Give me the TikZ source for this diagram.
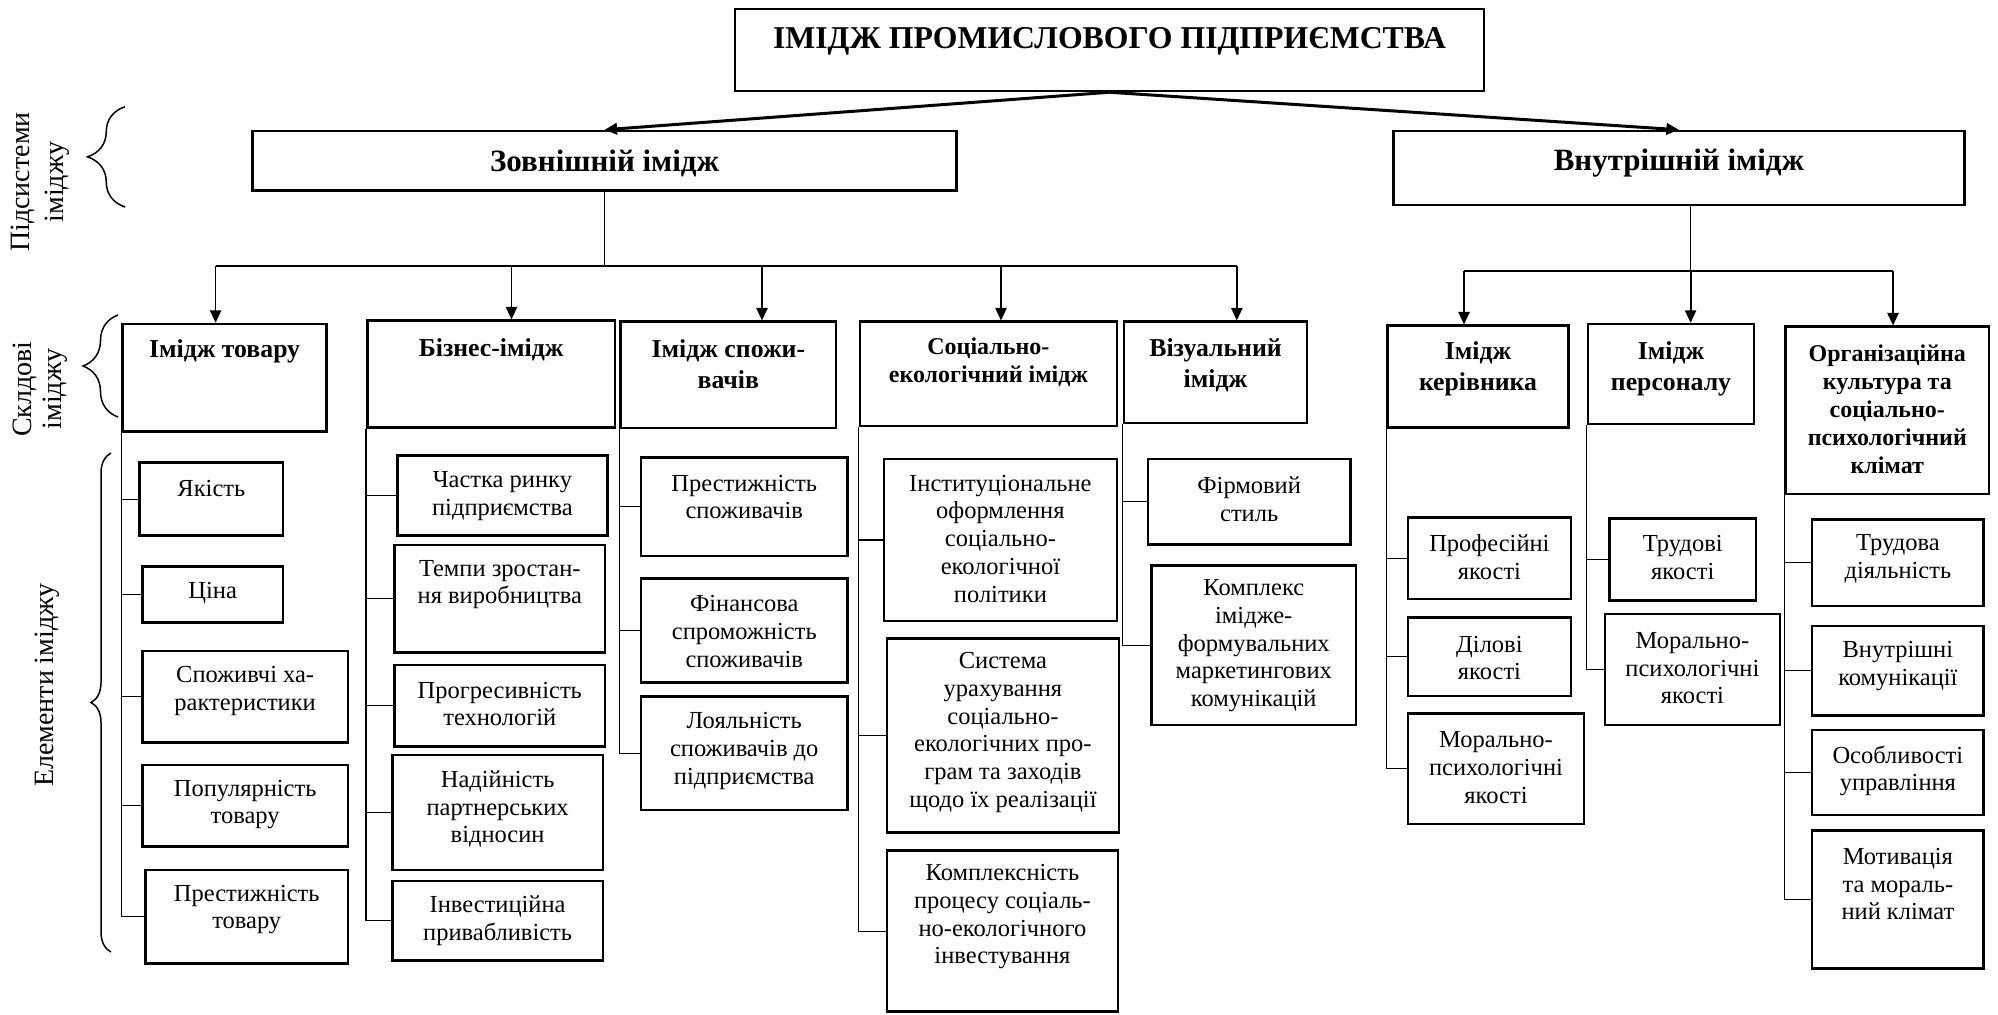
\documentclass[tikz,border=0pt]{standalone}
\usepackage{fontspec}
\setmainfont{Liberation Serif}
\usetikzlibrary{arrows.meta,fit,decorations.pathreplacing}
% #1 text style, #2 name, #3 x1, #4 y1, #5 x2, #6 y2, #7 text centre y, #8 text
\newcommand\bx[8]{%
  \node[ebox,fit={(#3,#4) (#5,#6)}] (#2) {};
  \node[#1] (#2t) at ({(#3+#5)/2},#7) {#8};}
\begin{document}
\begin{tikzpicture}[x=0.4pt,y=-0.4pt,
  ebox/.style={draw,line width=1pt,inner sep=0pt},
  etxt/.style={align=center,inner sep=0pt,font=\fontsize{9.8}{11.1}\selectfont},
  htxt/.style={align=center,inner sep=0pt,font=\bfseries\fontsize{10.3}{12.4}\selectfont},
  hstxt/.style={align=center,inner sep=0pt,font=\bfseries\fontsize{9.6}{11.2}\selectfont},
  ltxt/.style={align=center,inner sep=0pt,font=\bfseries\fontsize{12.4}{14}\selectfont},
  ttxt/.style={align=center,inner sep=0pt,font=\bfseries\fontsize{12.7}{14}\selectfont},
  conn/.style={line width=0.5pt},
  bus/.style={line width=0.6pt},
  arr/.style={line width=0.7pt,-{Triangle[length=5pt,width=4.5pt]}},
  toparr/.style={line width=1.2pt,-{Triangle[length=5pt,width=4.5pt]}},
  brc/.style={line width=0.6pt,decorate,decoration={brace,amplitude=#1}},
  lbl/.style={align=center,inner sep=0pt,rotate=90,font=\fontsize{11.2}{13.6}\selectfont}
]
\useasboundingbox (0,0) rectangle (1998,1014);

% ---- top levels
\bx{ttxt}{top}{735}{9}{1484}{91}{41.7}{ІМІДЖ ПРОМИСЛОВОГО ПІДПРИЄМСТВА}
\bx{ltxt}{ext}{252.6}{131}{956.6}{190.7}{163.3}{Зовнішній імідж}
\bx{ltxt}{int}{1393.4}{131}{1964.4}{205}{163.3}{Внутрішній імідж}

% ---- components
\bx{htxt}{g1}{122.6}{324}{326.6}{431.7}{351.7}{Імідж товару}
\bx{htxt}{g2}{367.3}{320.7}{615}{427.7}{350}{Бізнес-імідж}
\bx{htxt}{g3}{620.7}{321.7}{836}{428}{364}{Імідж спожи-\\вачів}
\bx{hstxt}{g4}{860}{321.7}{1116.8}{426}{362}{Соціально-\\екологічний імідж}
\bx{htxt}{g5}{1124}{321.7}{1307}{423}{365}{Візуальний\\імідж}
\bx{htxt}{g6}{1387.5}{325.7}{1568.5}{427.7}{369}{Імідж\\керівника}
\bx{htxt}{g7}{1588}{324}{1754}{424}{369}{Імідж\\персоналу}
\bx{hstxt}{g8}{1785.6}{326.7}{1989}{494}{409}{Організаційна\\культура та\\соціально-\\психологічний\\клімат}

% ---- elements
\bx{etxt}{e11}{139.6}{462.7}{283.1}{535.7}{488.3}{Якість}
\bx{etxt}{e12}{142.3}{566.7}{283.1}{622.7}{593.3}{Ціна}
\bx{etxt}{e13}{142.3}{651}{348}{742.3}{691}{Споживчі ха-\\рактеристики}
\bx{etxt}{e14}{142.3}{765}{348}{846.7}{804.5}{Популярність\\товару}
\bx{etxt}{e15}{145.5}{870}{348}{963.3}{909.5}{Престижність\\товару}

\bx{etxt}{e21}{397.4}{455.7}{607.4}{535.7}{496.4}{Частка ринку\\підприємства}
\bx{etxt}{e22}{394.6}{545}{605}{652.3}{584.5}{Темпи зростан-\\ня виробництва}
\bx{etxt}{e23}{394.6}{665}{605}{746.7}{704}{Прогресивність\\технологій}
\bx{etxt}{e24}{392.3}{755}{603}{870}{809}{Надійність\\партнерських\\відносин}
\bx{etxt}{e25}{392.3}{881}{603}{960.7}{920.5}{Інвестиційна\\привабливість}

\bx{etxt}{e31}{641}{457.7}{847.5}{556}{497}{Престижність\\споживачів}
\bx{etxt}{e32}{641}{578.3}{847.5}{682.3}{631.5}{Фінансова\\спроможність\\споживачів}
\bx{etxt}{e33}{641}{696.7}{847.5}{810}{750.8}{Лояльність\\споживачів до\\підприємства}

\bx{etxt}{e41}{884}{459}{1116.8}{621}{538.7}{Інституціональне\\оформлення\\соціально-\\екологічної\\політики}
\bx{etxt}{e42}{886.8}{638.3}{1119}{832.3}{732.5}{Система\\урахування\\соціально-\\екологічних про-\\грам та заходів\\щодо їх реалізації}
\bx{etxt}{e43}{886.8}{850.7}{1118}{1011.7}{916.7}{Комплексність\\процесу соціаль-\\но-екологічного\\інвестування}

\bx{etxt}{e51}{1148}{459}{1350.3}{544.3}{499}{Фірмовий\\стиль}
\bx{etxt}{e52}{1151.5}{565.7}{1356}{725}{645.8}{Комплекс\\імідже-\\формувальних\\маркетингових\\комунікацій}

\bx{etxt}{e61}{1408}{517.3}{1570.8}{599}{557}{Професійні\\якості}
\bx{etxt}{e62}{1408}{617.7}{1570.8}{696}{658}{Ділові\\якості}
\bx{etxt}{e63}{1408}{713.3}{1584}{824}{767.8}{Морально-\\психологічні\\якості}

\bx{etxt}{e71}{1609.7}{518.3}{1755.8}{600.7}{557.8}{Трудові\\якості}
\bx{etxt}{e72}{1605}{614}{1779.8}{725}{668.3}{Морально-\\психологічні\\якості}

\bx{etxt}{e81}{1812}{519.3}{1983.7}{606}{559}{Трудова\\діяльність}
\bx{etxt}{e82}{1812}{626}{1983.7}{715.7}{665.8}{Внутрішні\\комунікації}
\bx{etxt}{e83}{1812}{730}{1983.7}{815}{770.8}{Особливості\\управління}
\bx{etxt}{e84}{1812}{830.7}{1983.7}{968.3}{884.2}{Мотивація\\та мораль-\\ний клімат}

% ---- arrows from the top
\draw[toparr] (top.south) -- (ext.north);
\draw[toparr] (top.south) -- (int.north);

% ---- external bus
\coordinate (b1) at (215.6,266);
\coordinate (b2) at (511.5,266);
\coordinate (b3) at (762,266);
\coordinate (b4) at (1001,266);
\coordinate (b5) at (1236.8,266);
\draw[bus] (ext.south) -- (ext.south |- b1);
\draw[bus] (b1) -- (b5);
\draw[arr] (b1) -- (b1 |- g1.north);
\draw[arr] (b2) -- (b2 |- g2.north);
\draw[arr] (b3) -- (b3 |- g3.north);
\draw[arr] (b4) -- (b4 |- g4.north);
\draw[arr] (b5) -- (b5 |- g5.north);

% ---- internal bus
\coordinate (c0) at (1690.6,271);
\coordinate (c1) at (1464,271);
\coordinate (c3) at (1893,271);
\draw[bus] (c0 |- int.south) -- (c0);
\draw[bus] (c1) -- (c3);
\draw[arr] (c1) -- (c1 |- g6.north);
\draw[arr] (c0) -- (c0 |- g7.north);
\draw[arr] (c3) -- (c3 |- g8.north);

% ---- element trees
\draw[conn] (g1.south west) |- (e15.west);
\draw[conn] (e11.west) -- (e11.west -| g1.south west);
\draw[conn] (e12.west) -- (e12.west -| g1.south west);
\draw[conn] (e13.west) -- (e13.west -| g1.south west);
\draw[conn] (e14.west) -- (e14.west -| g1.south west);

\draw[conn] (g2.south west) |- (e25.west);
\draw[conn] (e21.west) -- (e21.west -| g2.south west);
\draw[conn] (e22.west) -- (e22.west -| g2.south west);
\draw[conn] (e23.west) -- (e23.west -| g2.south west);
\draw[conn] (e24.west) -- (e24.west -| g2.south west);

\draw[conn] (g3.south west) |- (e33.west);
\draw[conn] (e31.west) -- (e31.west -| g3.south west);
\draw[conn] (e32.west) -- (e32.west -| g3.south west);

\draw[conn] (g4.south west) |- (e43.west);
\draw[conn] (e41.west) -- (e41.west -| g4.south west);
\draw[conn] (e42.west) -- (e42.west -| g4.south west);

\draw[conn] (g5.south west) |- (e52.west);
\draw[conn] (e51.west) -- (e51.west -| g5.south west);

\draw[conn] (g6.south west) |- (e63.west);
\draw[conn] (e61.west) -- (e61.west -| g6.south west);
\draw[conn] (e62.west) -- (e62.west -| g6.south west);

\draw[conn] (g7.south west) |- (e72.west);
\draw[conn] (e71.west) -- (e71.west -| g7.south west);

\draw[conn] (g8.south west) |- (e84.west);
\draw[conn] (e81.west) -- (e81.west -| g8.south west);
\draw[conn] (e82.west) -- (e82.west -| g8.south west);
\draw[conn] (e83.west) -- (e83.west -| g8.south west);

% ---- braces and their labels
\coordinate (br1a) at (125,207);   \coordinate (br1b) at (125,106.7);
\coordinate (br2a) at (118,417);   \coordinate (br2b) at (118,315);
\coordinate (br3a) at (111,952);   \coordinate (br3b) at (111,453);
\draw[brc=15pt] (br1a) -- (br1b);
\draw[brc=14pt] (br2a) -- (br2b);
\draw[brc=8pt] (br3a) -- (br3b);
\node[lbl] (lab1) at (40,182) {Підсистеми\\іміджу};
\node[lbl,font=\fontsize{11.2}{12}\selectfont] (lab2) at (40,389) {Склдові\\іміджу};
\node[lbl] (lab3) at (47,685) {Елементи іміджу};
\end{tikzpicture}
\end{document}
